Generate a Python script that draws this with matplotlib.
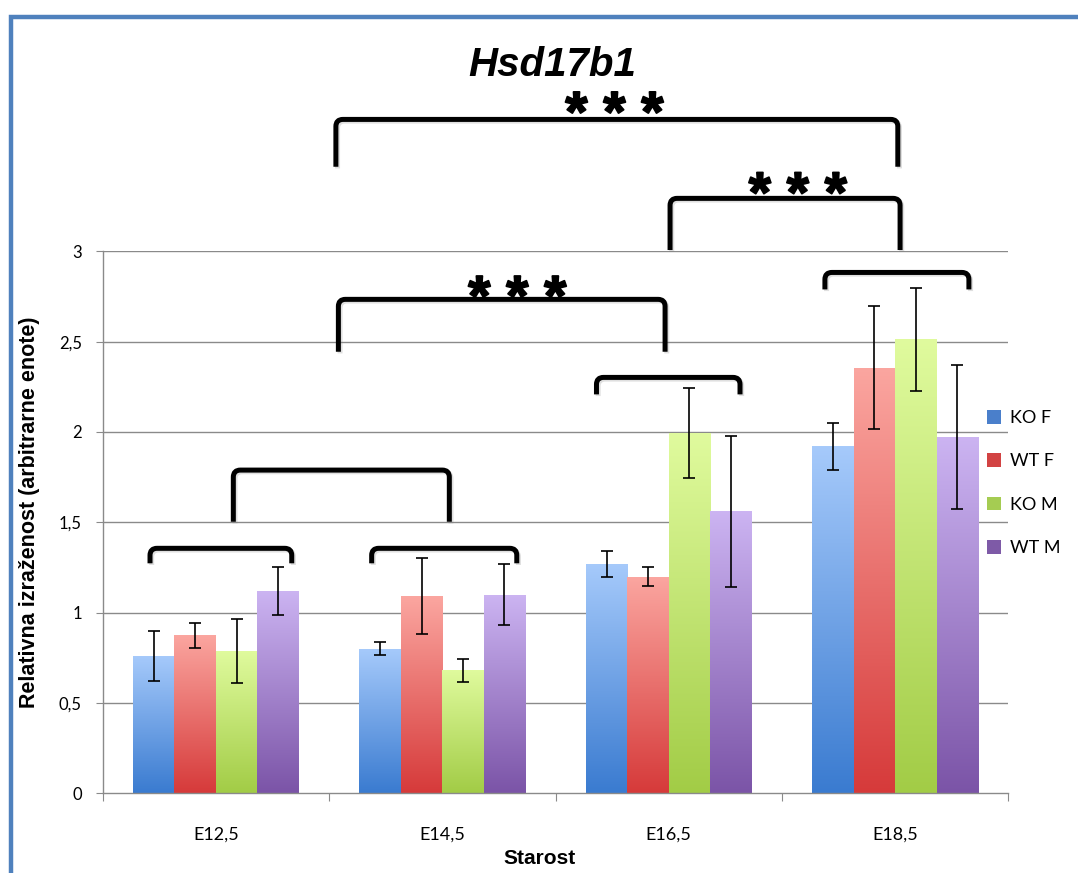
import numpy as np
import matplotlib
matplotlib.use("Agg")
import matplotlib.pyplot as plt
from matplotlib.path import Path
from matplotlib.patches import PathPatch, Rectangle, Patch
from matplotlib.colors import LinearSegmentedColormap
import matplotlib.patheffects as pe

# ---------------- data ----------------
categories = ["E12,5", "E14,5", "E16,5", "E18,5"]
series_names = ["KO F", "WT F", "KO M", "WT M"]

ko_f = [0.76, 0.80, 1.27, 1.92]
ko_f_err = [0.14, 0.035, 0.07, 0.13]
wt_f = [0.875, 1.09, 1.20, 2.355]
wt_f_err = [0.068, 0.21, 0.05, 0.34]
ko_m = [0.787, 0.682, 1.996, 2.514]
ko_m_err = [0.178, 0.064, 0.25, 0.285]
wt_m = [1.12, 1.10, 1.56, 1.972]
wt_m_err = [0.132, 0.168, 0.416, 0.397]

y_ticks = [0, 0.5, 1, 1.5, 2, 2.5, 3]
y_tick_labels = ["0", "0,5", "1", "1,5", "2", "2,5", "3"]

title = "Hsd17b1"
xlabel = "Starost"
ylabel = "Relativna izraženost (arbitrarne enote)"

# significance brackets (category units / value units)
bracket_x0 = [-0.291, 0.688, 1.681, 2.690, 0.077, 0.541, 2.006, 0.530]
bracket_x1 = [0.335, 1.329, 2.315, 3.326, 1.031, 1.984, 3.022, 3.012]
bracket_top = [1.356, 1.356, 2.302, 2.883, 1.789, 2.734, 3.293, 3.730]
bracket_bottom = [1.273, 1.273, 2.208, 2.789, 1.503, 2.444, 3.007, 3.468]
star_labels = ["* * *", "* * *", "* * *"]
star_x = [1.332, 2.571, 1.761]
star_y = [2.804, 3.377, 3.823]

# ---------------- style ----------------
values = [ko_f, wt_f, ko_m, wt_m]
errors = [ko_f_err, wt_f_err, ko_m_err, wt_m_err]
grad_top = ["#a6cafb", "#fba6a0", "#e0fb9e", "#ccb4f2"]
grad_bot = ["#3a7bd0", "#d63a3a", "#a2cc46", "#7b54a7"]
legend_cols = ["#4a7fcb", "#d24343", "#a5cc52", "#7e5aa7"]

W, H, DPI = 1078, 873, 100
fig = plt.figure(figsize=(W / DPI, H / DPI), dpi=DPI)
fig.patch.set_facecolor("white")

ax_l, ax_r, ax_b, ax_t = 102.7, 1008.3, 793.3, 251.3
ax = fig.add_axes([ax_l / W, 1 - ax_b / H, (ax_r - ax_l) / W, (ax_b - ax_t) / H])
ax.set_xlim(-0.5, len(categories) - 0.5)
ax.set_ylim(0, 3)

grid_col = "#8a8a8a"
for yt in y_ticks[1:]:
    ax.axhline(yt, color=grid_col, lw=1.0, zorder=1)

bw = 0.183
x = np.arange(len(categories))
n = len(series_names)
for i in range(n):
    offs = (i - (n - 1) / 2) * bw
    bars = ax.bar(x + offs, values[i], width=bw, facecolor="none",
                  edgecolor="none", zorder=2)
    cmap = LinearSegmentedColormap.from_list("g%d" % i, [grad_bot[i], grad_top[i]])
    grad = np.linspace(0, 1, 256).reshape(-1, 1)
    for b in bars:
        x0, w, h = b.get_x(), b.get_width(), b.get_height()
        im = ax.imshow(grad, cmap=cmap, extent=(x0, x0 + w, 0, h), origin="lower",
                       aspect="auto", zorder=2, interpolation="bilinear")
        im.set_clip_path(b)
    ax.errorbar(x + offs, values[i], yerr=errors[i], fmt="none", ecolor="black",
                elinewidth=1.2, capsize=4, capthick=1.2, zorder=4)

ax.set_xlim(-0.5, len(categories) - 0.5)
ax.set_ylim(0, 3)

# spines / ticks
for s in ["top", "right"]:
    ax.spines[s].set_visible(False)
for s in ["left", "bottom"]:
    ax.spines[s].set_color(grid_col)
    ax.spines[s].set_linewidth(1.0)
ax.set_yticks(y_ticks)
ax.set_yticklabels(y_tick_labels, fontfamily="Lato", fontsize=12)
ax.tick_params(axis="y", direction="out", length=5, color=grid_col, pad=10)
ax.set_xticks(np.arange(len(categories) + 1) - 0.5)
ax.set_xticklabels([])
ax.tick_params(axis="x", which="major", direction="out", length=6, color=grid_col)
ax.set_xticks(x, minor=True)
ax.set_xticklabels(categories, minor=True, fontfamily="Lato", fontsize=13)
ax.tick_params(axis="x", which="minor", length=0, pad=24)

ax.set_xlabel(xlabel, fontfamily="Liberation Sans", fontweight="bold", fontsize=15)
ax.xaxis.set_label_coords((540 - ax_l) / (ax_r - ax_l), -(859 - ax_b) / (ax_b - ax_t))
ax.xaxis.label.set_va("center")
ax.set_ylabel(ylabel, fontfamily="Liberation Sans", fontweight="bold", fontsize=15.5)
ax.yaxis.set_label_coords((30 - ax_l) / (ax_r - ax_l), (ax_b - 512) / (ax_b - ax_t))
ax.yaxis.label.set_va("center")

# brackets
p0 = ax.transData.transform((0, 0))
p1 = ax.transData.transform((1, 1))
sx, sy = p1[0] - p0[0], p1[1] - p0[1]
r_px = 7.0
rx, ry = r_px / sx, r_px / sy
for x0, x1, yt, yb in zip(bracket_x0, bracket_x1, bracket_top, bracket_bottom):
    verts = [(x0, yb), (x0, yt - ry), (x0, yt), (x0 + rx, yt),
             (x1 - rx, yt), (x1, yt), (x1, yt - ry), (x1, yb)]
    codes = [Path.MOVETO, Path.LINETO, Path.CURVE3, Path.CURVE3,
             Path.LINETO, Path.CURVE3, Path.CURVE3, Path.LINETO]
    pp = PathPatch(Path(verts, codes), facecolor="none", edgecolor="black",
                   lw=3.6, capstyle="butt", joinstyle="round", clip_on=False, zorder=5)
    pp.set_path_effects([pe.SimpleLineShadow(offset=(1.2, -1.2), alpha=0.25, shadow_color="gray"),
                         pe.Normal()])
    ax.add_patch(pp)

star_fs = 41
for lab, sxp, syp in zip(star_labels, star_x, star_y):
    off = -0.5 * star_fs * DPI / 72.0
    t = ax.annotate(lab, xy=(sxp, syp), xytext=(0, off), textcoords="offset pixels",
                    ha="center", va="baseline", fontsize=star_fs, fontweight="bold",
                    fontfamily="Liberation Sans", annotation_clip=False, zorder=6)
    t.set_path_effects([pe.withStroke(linewidth=1.3, foreground="black")])

# title
fig.text(552.5 / W, 1 - 75.5 / H, title, ha="center", va="baseline", fontsize=29,
         fontweight="bold", fontstyle="italic", fontfamily="Liberation Sans")

# legend
handles = [Patch(facecolor=c, edgecolor="none") for c in legend_cols]
leg = fig.legend(handles, series_names, loc="upper left",
                 bbox_to_anchor=(987 / W, 1 - 410 / H), frameon=False,
                 prop={"family": "Lato", "size": 13}, handlelength=0.8,
                 handleheight=0.8, handletextpad=0.5, labelspacing=1.5,
                 borderpad=0, borderaxespad=0)

# blue frame
fig.patches.append(Rectangle((10.5 / W, -0.1), 2.0, 1.1 - 17 / H + 0.0,
                             transform=fig.transFigure, fill=False,
                             edgecolor="#4f81bd", lw=3.2, zorder=10))

fig.savefig("out.png", dpi=DPI)
